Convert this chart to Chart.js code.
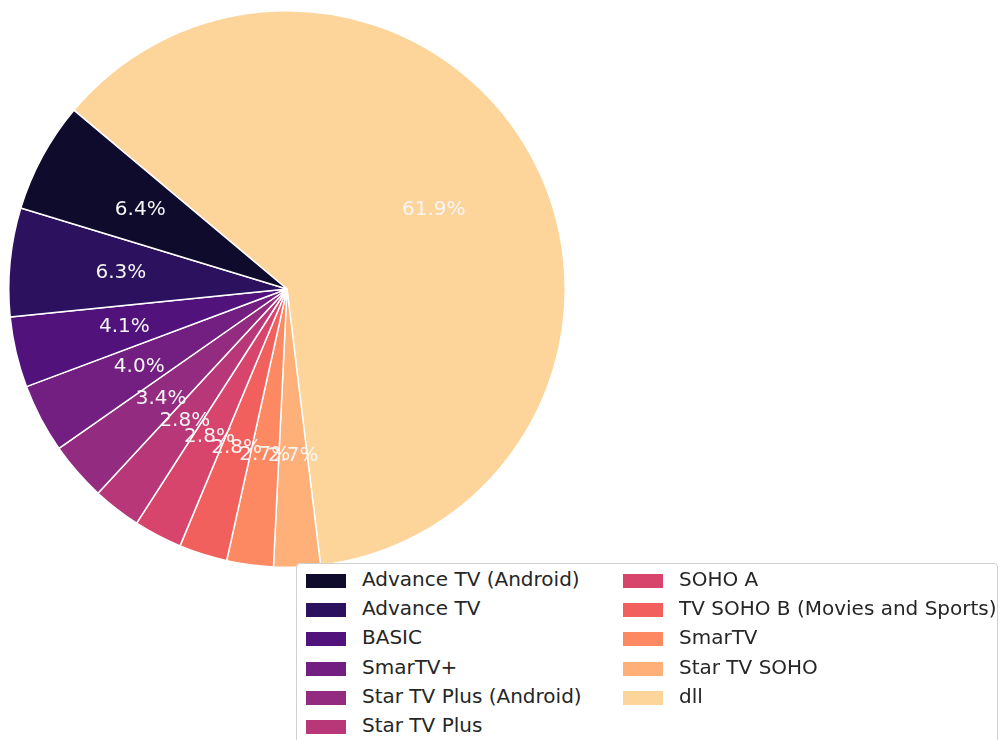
<!DOCTYPE html>
<html>
<head>
<meta charset="utf-8">
<script src="https://cdn.jsdelivr.net/npm/chart.js@4"></script>
<style>
  body { margin: 0; background: #fff; font-family: "DejaVu Sans", sans-serif; }
  #wrap { position: relative; width: 1002px; height: 740px; overflow: hidden; }
  #pieBox { position: absolute; left: 8px; top: 10px; width: 558px; height: 558px; }
  #legend {
    position: absolute; left: 296px; top: 563px; width: 702px; height: 200px;
    background: #fff; border: 1px solid #d0d0d0; border-radius: 4px; box-sizing: border-box;
  }
  .item { position: absolute; height: 29px; font-size: 20px; color: #262626; white-space: nowrap; }
  .item .sw { position: absolute; top: 8px; width: 40px; height: 14px; }
  .item .tx { position: absolute; left: 56px; top: 1px; }
</style>
</head>
<body>
<div id="wrap">
  <div id="pieBox"><canvas id="pie"></canvas></div>
  <div id="legend"></div>
</div>
<script>
// ==================== DATA ====================
const categories = ['Advance TV (Android)', 'Advance TV', 'BASIC', 'SmarTV+', 'Star TV Plus (Android)',
  'Star TV Plus', 'SOHO A', 'TV SOHO B (Movies and Sports)', 'SmarTV', 'Star TV SOHO', 'dll'];
const shares = [6.4, 6.3, 4.1, 4.0, 3.4, 2.8, 2.8, 2.8, 2.7, 2.7, 61.9];
const colors = ['#0f0b2c', '#2c115f', '#51127c', '#721f81', '#932b80', '#b73779',
  '#d8456c', '#f1605d', '#fc8961', '#feb078', '#fdd59b'];

// matplotlib goes counter-clockwise, chart.js clockwise -> feed reversed
const revShares = shares.slice().reverse();
const revColors = colors.slice().reverse();

// percentage labels at 0.6 of the radius, drawn in original order
const pctLabels = {
  id: 'pctLabels',
  afterDatasetsDraw(chart) {
    const ctx = chart.ctx;
    const arcs = chart.getDatasetMeta(0).data;
    const n = arcs.length;
    ctx.save();
    ctx.font = '20px "DejaVu Sans"';
    ctx.fillStyle = '#f4f4f4';
    ctx.textAlign = 'center';
    ctx.textBaseline = 'middle';
    for (let i = 0; i < n; i++) {
      const arc = arcs[n - 1 - i];
      const p = arc.getProps(['x', 'y', 'startAngle', 'endAngle', 'outerRadius'], true);
      const mid = (p.startAngle + p.endAngle) / 2;
      const r = p.outerRadius * 0.6;
      ctx.fillText(shares[i].toFixed(1) + '%', p.x + Math.cos(mid) * r, p.y + Math.sin(mid) * r);
    }
    ctx.restore();
  }
};

new Chart(document.getElementById('pie'), {
  type: 'pie',
  data: {
    labels: categories.slice().reverse(),
    datasets: [{
      data: revShares,
      backgroundColor: revColors,
      borderColor: '#ffffff',
      borderWidth: 1.5
    }]
  },
  options: {
    responsive: true,
    maintainAspectRatio: false,
    animation: false,
    rotation: -50,
    layout: { padding: 0 },
    plugins: { legend: { display: false }, tooltip: { enabled: false } }
  },
  plugins: [pctLabels]
});

// LEGEND (two columns, 6 rows)
const legendEl = document.getElementById('legend');
categories.forEach((name, i) => {
  const col = i < 6 ? 0 : 1;
  const row = i < 6 ? i : i - 6;
  const item = document.createElement('div');
  item.className = 'item';
  item.style.left = (col === 0 ? 9 : 326) + 'px';
  item.style.top = (2 + row * 29.2) + 'px';
  item.innerHTML = `<span class="sw" style="background:${colors[i]}"></span><span class="tx">${name}</span>`;
  legendEl.appendChild(item);
});
</script>
</body>
</html>
